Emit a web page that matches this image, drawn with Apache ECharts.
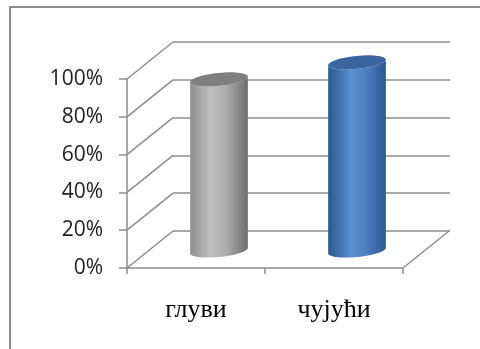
<!DOCTYPE html>
<html>
<head>
<meta charset="utf-8">
<script src="https://cdn.jsdelivr.net/npm/echarts@6/dist/echarts.min.js"></script>
<style>
  html, body { margin: 0; padding: 0; background: #fff; }
  #main { width: 480px; height: 349px; }
</style>
</head>
<body>
<div id="main"></div>
<script>
var categories = ['глуви', 'чујући'];
var values = [90, 99];
var yTicks = [0, 20, 40, 60, 80, 100];

// 3d depth offset of the back wall (px)
var DEPTH = [46, -37];
var lineColor = '#8c8c8c';

var bodyColors = [
  [{ offset: 0, color: '#8e8e8e' }, { offset: 0.35, color: '#c0c0c0' }, { offset: 0.62, color: '#acacac' }, { offset: 1, color: '#6c6c6c' }],
  [{ offset: 0, color: '#2d5890' }, { offset: 0.4, color: '#5a8fd1' }, { offset: 0.65, color: '#4d80c2' }, { offset: 1, color: '#2a568d' }]
];
var topColors = ['#7f7f7f', '#3b659f'];

function ellipsePts(cx, cy, rx, ry, a, t0, t1, n) {
  var pts = [];
  for (var i = 0; i <= n; i++) {
    var t = t0 + (t1 - t0) * i / n;
    pts.push([
      cx + rx * Math.cos(t) * Math.cos(a) - ry * Math.sin(t) * Math.sin(a),
      cy + rx * Math.cos(t) * Math.sin(a) + ry * Math.sin(t) * Math.cos(a)
    ]);
  }
  return pts;
}

var chart = echarts.init(document.getElementById('main'), null, { renderer: 'canvas' });

var option = {
  animation: false,
  graphic: [{
    type: 'rect',
    shape: { x: 10, y: 7, width: 480, height: 360 },
    style: { fill: 'none', stroke: '#8a8a8a', lineWidth: 2 }
  }],
  grid: [
    { left: 127, top: 79, width: 276, height: 189 },
    { left: 173, top: 42, width: 277, height: 189 }
  ],
  xAxis: [{
    gridIndex: 0,
    type: 'category',
    data: categories,
    axisLine: { lineStyle: { color: lineColor, width: 1.5 } },
    axisTick: { show: true, length: 6, lineStyle: { color: lineColor, width: 1.5 } },
    axisLabel: { margin: 29, color: '#000', fontFamily: 'Liberation Serif', fontSize: 26 }
  }, {
    gridIndex: 1,
    type: 'category',
    data: categories,
    show: false
  }],
  yAxis: [{
    gridIndex: 0,
    type: 'value',
    min: 0, max: 100, interval: 20,
    axisLine: { show: true, lineStyle: { color: lineColor, width: 1.5 } },
    axisTick: { show: true, length: 8, lineStyle: { color: lineColor, width: 1.5 } },
    splitLine: { show: false },
    axisLabel: { formatter: '{value}%', margin: 24, color: '#222', fontFamily: 'Open Sans', fontSize: 21 }
  }, {
    gridIndex: 1,
    type: 'value',
    min: 0, max: 100, interval: 20,
    axisLine: { show: false },
    axisTick: { show: false },
    axisLabel: { show: false },
    splitLine: { show: true, lineStyle: { color: lineColor, width: 1.5 } }
  }],
  series: [{
    // diagonal lines joining front axis ticks to back wall, plus floor edge
    type: 'custom',
    xAxisIndex: 0, yAxisIndex: 0,
    z: 1,
    silent: true,
    data: yTicks.map(function (v) { return [0, v, 0]; }).concat([[0, 0, 1]]),
    renderItem: function (params, api) {
      var cs = params.coordSys;
      var y = api.coord([0, api.value(1)])[1];
      var x = api.value(2) ? cs.x + cs.width : cs.x;
      return {
        type: 'line',
        shape: { x1: x, y1: y, x2: x + DEPTH[0], y2: y + DEPTH[1] },
        style: { stroke: lineColor, lineWidth: 1.5 }
      };
    }
  }, {
    type: 'custom',
    xAxisIndex: 0, yAxisIndex: 0,
    z: 5,
    data: values.map(function (v, i) { return [i, v]; }),
    renderItem: function (params, api) {
      var i = api.value(0);
      var base = api.coord([i, 0]);
      var top = api.coord([i, api.value(1)]);
      var band = api.size([1, 0])[0];
      var rx = band * 0.21, ry = 6.5, a = -0.1;
      var cx = base[0] + DEPTH[0] / 2;
      var by = base[1] + DEPTH[1] / 2 + 1;
      var ty = top[1] + DEPTH[1] / 2;
      var bottom = ellipsePts(cx, by, rx, ry, a, Math.PI, 0, 30);
      var topLow = ellipsePts(cx, ty, rx, ry, a, 0, Math.PI, 30);
      return {
        type: 'group',
        children: [{
          type: 'polygon',
          shape: { points: bottom.concat(topLow) },
          style: { fill: new echarts.graphic.LinearGradient(0, 0, 1, 0, bodyColors[i]) }
        }, {
          type: 'polygon',
          shape: { points: ellipsePts(cx, ty, rx, ry, a, 0, Math.PI * 2, 60) },
          style: { fill: topColors[i] }
        }]
      };
    }
  }]
};

chart.setOption(option);
</script>
</body>
</html>
